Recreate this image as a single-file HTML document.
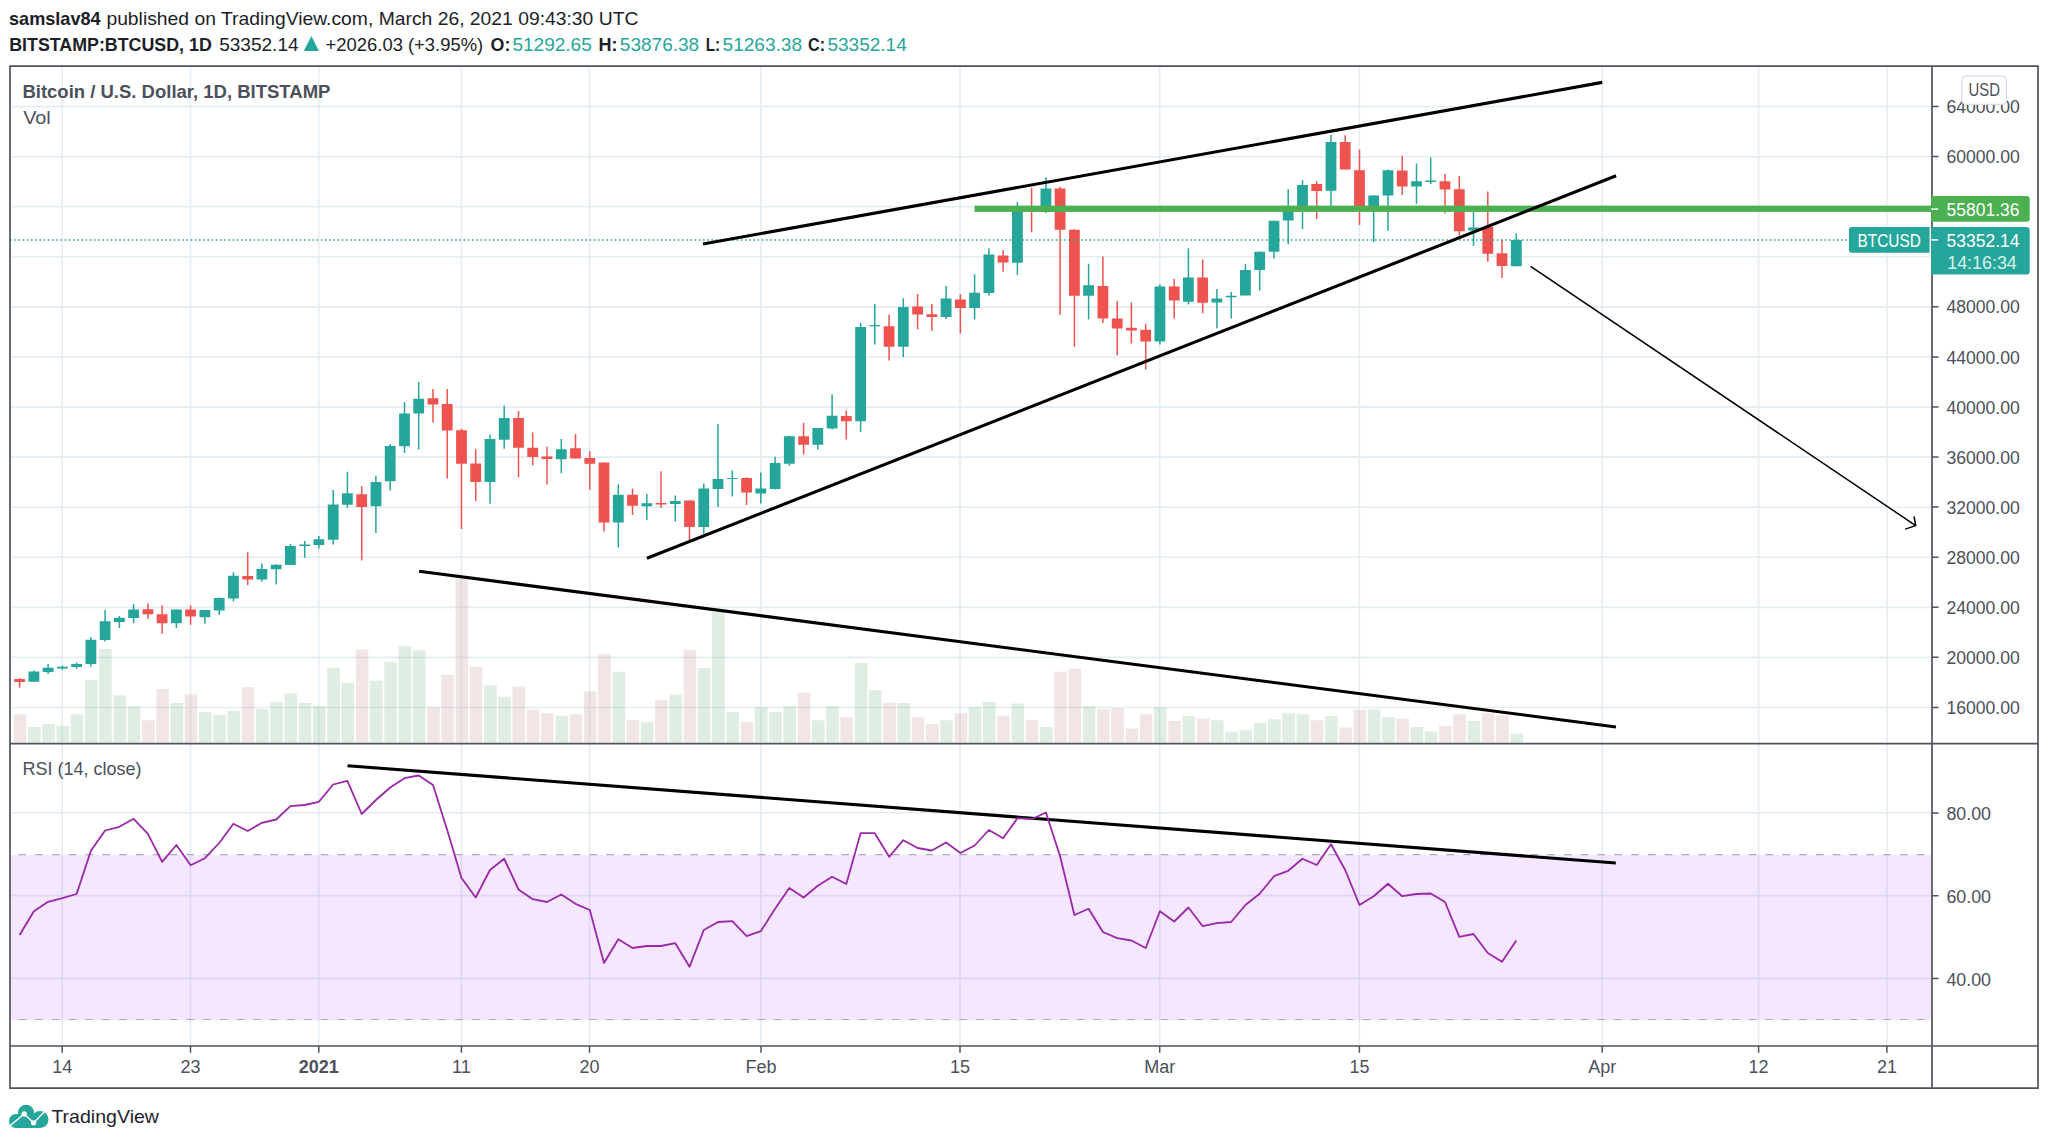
<!DOCTYPE html>
<html lang="en"><head><meta charset="utf-8"><title>BTCUSD chart</title><style>html,body{margin:0;padding:0;background:#fff}body{width:2048px;height:1144px;overflow:hidden}</style></head><body>
<svg width="2048" height="1144" viewBox="0 0 2048 1144" style="display:block" font-family='"Liberation Sans", sans-serif'>
<rect width="2048" height="1144" fill="#fff"/>
<path d="M62.2 67V1046M190.5 67V1046M318.8 67V1046M461.4 67V1046M589.5 67V1046M761.0 67V1046M960.0 67V1046M1159.7 67V1046M1359.4 67V1046M1602.2 67V1046M1758.6 67V1046M1886.9 67V1046M10 106.6H1932M10 156.7H1932M10 206.8H1932M10 256.8H1932M10 306.9H1932M10 357.0H1932M10 407.1H1932M10 457.1H1932M10 507.2H1932M10 557.3H1932M10 607.4H1932M10 657.4H1932M10 707.5H1932M10 812.8H1932M10 895.6H1932M10 978.4H1932" stroke="#E4EDF3" stroke-width="1.6" fill="none"/>
<rect x="10" y="854.9" width="1922" height="165.5" fill="#9915FF" fill-opacity="0.1"/>
<path d="M10 854.6H1932M10 1019.5H1932" stroke="#B2A8BA" stroke-width="1.1" stroke-dasharray="7.6 9.2" stroke-dashoffset="8.4" fill="none"/>
<path d="M28.0 727.0h12.6V742.4h-12.6zM42.2 724.1h12.6V742.4h-12.6zM56.5 726.0h12.6V742.4h-12.6zM70.7 714.3h12.6V742.4h-12.6zM85.0 680.1h12.6V742.4h-12.6zM99.2 648.9h12.6V742.4h-12.6zM113.5 695.2h12.6V742.4h-12.6zM127.7 706.1h12.6V742.4h-12.6zM170.5 703.0h12.6V742.4h-12.6zM199.0 712.0h12.6V742.4h-12.6zM213.3 714.9h12.6V742.4h-12.6zM227.5 711.0h12.6V742.4h-12.6zM256.0 709.0h12.6V742.4h-12.6zM270.3 702.2h12.6V742.4h-12.6zM284.5 693.6h12.6V742.4h-12.6zM298.8 703.0h12.6V742.4h-12.6zM313.0 706.1h12.6V742.4h-12.6zM327.3 667.8h12.6V742.4h-12.6zM341.5 683.0h12.6V742.4h-12.6zM370.0 680.7h12.6V742.4h-12.6zM384.3 662.3h12.6V742.4h-12.6zM398.6 646.3h12.6V742.4h-12.6zM412.8 650.2h12.6V742.4h-12.6zM484.1 685.4h12.6V742.4h-12.6zM498.3 696.7h12.6V742.4h-12.6zM555.4 715.7h12.6V742.4h-12.6zM612.4 671.7h12.6V742.4h-12.6zM640.9 722.1h12.6V742.4h-12.6zM669.4 694.4h12.6V742.4h-12.6zM697.9 668.0h12.6V742.4h-12.6zM712.1 612.3h12.6V742.4h-12.6zM726.4 712.0h12.6V742.4h-12.6zM754.9 706.9h12.6V742.4h-12.6zM769.2 712.0h12.6V742.4h-12.6zM783.4 706.1h12.6V742.4h-12.6zM811.9 720.2h12.6V742.4h-12.6zM826.2 706.1h12.6V742.4h-12.6zM854.7 663.1h12.6V742.4h-12.6zM868.9 689.9h12.6V742.4h-12.6zM897.4 703.0h12.6V742.4h-12.6zM940.2 720.2h12.6V742.4h-12.6zM968.7 706.9h12.6V742.4h-12.6zM983.0 702.0h12.6V742.4h-12.6zM1011.5 703.6h12.6V742.4h-12.6zM1040.0 727.0h12.6V742.4h-12.6zM1082.8 706.1h12.6V742.4h-12.6zM1154.0 706.9h12.6V742.4h-12.6zM1182.5 716.2h12.6V742.4h-12.6zM1211.0 720.2h12.6V742.4h-12.6zM1225.3 732.3h12.6V742.4h-12.6zM1239.5 730.3h12.6V742.4h-12.6zM1253.8 723.1h12.6V742.4h-12.6zM1268.1 719.2h12.6V742.4h-12.6zM1282.3 713.3h12.6V742.4h-12.6zM1296.6 714.3h12.6V742.4h-12.6zM1325.1 716.2h12.6V742.4h-12.6zM1367.8 709.4h12.6V742.4h-12.6zM1382.1 717.2h12.6V742.4h-12.6zM1410.6 727.0h12.6V742.4h-12.6zM1424.8 731.5h12.6V742.4h-12.6zM1467.6 721.1h12.6V742.4h-12.6zM1510.4 733.8h12.6V742.4h-12.6z" fill="#94C3A2" fill-opacity="0.3"/>
<path d="M13.7 714.3h12.6V742.4h-12.6zM142.0 720.2h12.6V742.4h-12.6zM156.2 688.9h12.6V742.4h-12.6zM184.7 694.4h12.6V742.4h-12.6zM241.8 687.0h12.6V742.4h-12.6zM355.8 649.5h12.6V742.4h-12.6zM427.1 706.9h12.6V742.4h-12.6zM441.3 674.8h12.6V742.4h-12.6zM455.6 578.6h12.6V742.4h-12.6zM469.8 666.4h12.6V742.4h-12.6zM512.6 686.4h12.6V742.4h-12.6zM526.8 709.8h12.6V742.4h-12.6zM541.1 713.3h12.6V742.4h-12.6zM569.6 714.3h12.6V742.4h-12.6zM583.9 691.2h12.6V742.4h-12.6zM598.1 654.3h12.6V742.4h-12.6zM626.6 720.2h12.6V742.4h-12.6zM655.1 700.2h12.6V742.4h-12.6zM683.6 649.8h12.6V742.4h-12.6zM740.7 721.7h12.6V742.4h-12.6zM797.7 692.8h12.6V742.4h-12.6zM840.4 717.2h12.6V742.4h-12.6zM883.2 702.6h12.6V742.4h-12.6zM911.7 717.2h12.6V742.4h-12.6zM926.0 724.1h12.6V742.4h-12.6zM954.5 713.3h12.6V742.4h-12.6zM997.2 715.7h12.6V742.4h-12.6zM1025.7 720.2h12.6V742.4h-12.6zM1054.2 671.7h12.6V742.4h-12.6zM1068.5 668.4h12.6V742.4h-12.6zM1097.0 709.0h12.6V742.4h-12.6zM1111.3 707.9h12.6V742.4h-12.6zM1125.5 728.6h12.6V742.4h-12.6zM1139.8 714.3h12.6V742.4h-12.6zM1168.3 721.1h12.6V742.4h-12.6zM1196.8 718.6h12.6V742.4h-12.6zM1310.8 720.2h12.6V742.4h-12.6zM1339.3 727.6h12.6V742.4h-12.6zM1353.6 709.8h12.6V742.4h-12.6zM1396.3 718.6h12.6V742.4h-12.6zM1439.1 726.0h12.6V742.4h-12.6zM1453.4 714.3h12.6V742.4h-12.6zM1481.9 713.3h12.6V742.4h-12.6zM1496.1 715.3h12.6V742.4h-12.6z" fill="#D0A8A8" fill-opacity="0.3"/>
<path d="M33.9 670.5V681.8M48.1 664.0V674.0M62.4 665.6V669.8M76.6 662.5V668.8M90.9 637.3V666.7M105.1 610.0V641.5M119.4 615.9V627.9M133.6 604.2V623.3M176.4 609.4V627.9M204.9 610.0V623.7M219.2 597.4V614.9M233.4 572.3V601.6M261.9 563.4V581.7M276.2 564.3V584.6M290.4 543.9V564.9M304.7 541.0V557.8M318.9 536.0V548.6M333.2 490.0V544.4M347.4 471.8V507.8M375.9 475.8V533.1M390.2 443.9V490.5M404.5 402.0V453.0M418.7 382.0V449.6M490.0 434.5V503.7M504.2 405.5V448.8M561.3 439.1V473.3M618.3 484.2V547.4M646.8 493.9V520.1M675.3 495.6V521.6M703.8 483.4V533.7M718.0 424.0V506.9M732.3 470.5V496.6M760.8 472.4V503.5M775.1 456.7V489.4M789.3 435.7V465.7M817.8 428.1V449.5M832.1 394.4V429.6M860.6 323.0V432.1M874.8 304.1V344.6M903.3 298.3V357.0M946.1 286.0V318.9M974.6 274.2V319.5M988.9 248.2V295.8M1017.4 202.0V274.9M1045.9 177.3V213.0M1088.6 263.7V319.5M1159.9 284.3V344.5M1188.4 248.2V304.6M1216.9 288.9V328.4M1231.2 292.1V318.5M1245.4 263.9V295.6M1259.7 251.4V290.6M1274.0 220.7V258.5M1288.2 189.3V244.3M1302.5 180.3V229.2M1331.0 134.8V205.9M1373.7 195.0V242.2M1388.0 169.4V230.7M1416.5 163.5V203.8M1430.7 157.6V183.9M1473.5 206.5V246.0M1516.3 233.4V266.3" stroke="#26A69A" stroke-width="1.5" fill="none"/>
<path d="M28.5 671.5h10.8v10.3h-10.8zM42.7 667.7h10.8v4.2h-10.8zM57.0 666.7h10.8v1.7h-10.8zM71.2 664.0h10.8v2.9h-10.8zM85.5 639.8h10.8v24.3h-10.8zM99.7 621.2h10.8v18.9h-10.8zM114.0 617.8h10.8v4.2h-10.8zM128.2 609.4h10.8v8.6h-10.8zM171.0 609.4h10.8v13.8h-10.8zM199.5 610.0h10.8v7.3h-10.8zM213.8 598.1h10.8v12.4h-10.8zM228.0 575.8h10.8v22.7h-10.8zM256.5 569.1h10.8v10.3h-10.8zM270.8 564.7h10.8v4.6h-10.8zM285.0 546.0h10.8v18.9h-10.8zM299.3 544.6h10.8v1.5h-10.8zM313.5 539.3h10.8v5.7h-10.8zM327.8 504.5h10.8v35.3h-10.8zM342.0 493.2h10.8v11.5h-10.8zM370.6 482.1h10.8v24.1h-10.8zM384.8 446.0h10.8v35.3h-10.8zM399.1 413.5h10.8v32.7h-10.8zM413.3 398.8h10.8v14.7h-10.8zM484.6 439.1h10.8v42.8h-10.8zM498.8 418.1h10.8v21.6h-10.8zM555.9 449.2h10.8v10.1h-10.8zM612.9 494.7h10.8v27.7h-10.8zM641.4 503.3h10.8v2.9h-10.8zM669.9 501.0h10.8v2.9h-10.8zM698.4 488.6h10.8v38.4h-10.8zM712.6 479.0h10.8v9.9h-10.8zM726.9 477.9h10.8v1.2h-10.8zM755.4 488.4h10.8v5.0h-10.8zM769.7 463.0h10.8v26.0h-10.8zM783.9 436.3h10.8v27.5h-10.8zM812.4 428.1h10.8v16.6h-10.8zM826.7 415.8h10.8v12.8h-10.8zM855.2 327.0h10.8v94.2h-10.8zM869.4 325.1h10.8v1.2h-10.8zM897.9 306.9h10.8v39.9h-10.8zM940.7 298.6h10.8v18.3h-10.8zM969.2 292.7h10.8v15.3h-10.8zM983.5 254.5h10.8v38.6h-10.8zM1012.0 209.8h10.8v52.9h-10.8zM1040.5 188.4h10.8v23.5h-10.8zM1083.2 285.3h10.8v10.5h-10.8zM1154.5 286.4h10.8v55.2h-10.8zM1183.0 277.4h10.8v24.3h-10.8zM1211.5 298.4h10.8v4.2h-10.8zM1225.8 295.8h10.8v1.5h-10.8zM1240.0 270.0h10.8v25.6h-10.8zM1254.3 251.8h10.8v18.3h-10.8zM1268.6 220.7h10.8v31.1h-10.8zM1282.8 209.0h10.8v11.5h-10.8zM1297.1 184.9h10.8v24.1h-10.8zM1325.6 142.1h10.8v48.7h-10.8zM1368.3 195.6h10.8v13.4h-10.8zM1382.6 170.2h10.8v25.4h-10.8zM1411.1 181.3h10.8v5.2h-10.8zM1425.3 180.5h10.8v1.5h-10.8zM1468.1 227.5h10.8v3.1h-10.8zM1510.9 240.1h10.8v26.2h-10.8z" fill="#26A69A"/>
<path d="M19.6 678.2V687.7M147.9 603.3V618.8M162.1 605.4V633.7M190.6 605.4V624.7M247.7 552.3V585.3M361.7 486.3V560.4M433.0 389.0V422.5M447.2 389.0V478.6M461.5 428.8V528.9M475.7 449.2V501.2M518.5 411.0V477.5M532.7 432.4V465.3M547.0 446.7V484.6M575.5 433.9V458.4M589.8 451.3V489.7M604.0 462.2V531.6M632.5 488.4V514.9M661.0 471.2V508.1M689.5 500.2V540.0M746.6 477.2V504.9M803.6 422.7V454.6M846.3 410.5V439.5M889.1 314.6V360.4M917.6 294.1V329.3M931.9 304.1V330.8M960.4 294.2V333.6M1003.1 250.1V271.7M1031.6 187.8V232.3M1060.1 186.7V314.7M1074.4 229.3V346.8M1102.9 256.4V323.1M1117.2 301.1V355.2M1131.4 302.6V343.5M1145.7 323.7V369.5M1174.2 279.0V318.5M1202.7 259.5V313.3M1316.7 181.3V219.1M1345.2 135.2V169.6M1359.5 149.4V225.0M1402.2 155.7V195.0M1445.0 174.0V213.2M1459.3 176.1V235.5M1487.8 191.4V261.7M1502.0 240.1V277.9" stroke="#EF5350" stroke-width="1.5" fill="none"/>
<path d="M14.2 679.1h10.8v2.9h-10.8zM142.5 609.2h10.8v5.0h-10.8zM156.7 614.2h10.8v9.0h-10.8zM185.2 609.4h10.8v7.1h-10.8zM242.3 576.0h10.8v3.4h-10.8zM356.3 494.3h10.8v12.6h-10.8zM427.6 398.2h10.8v6.3h-10.8zM441.8 404.1h10.8v26.4h-10.8zM456.1 430.3h10.8v33.4h-10.8zM470.3 463.4h10.8v18.5h-10.8zM513.1 418.1h10.8v29.6h-10.8zM527.3 447.7h10.8v9.2h-10.8zM541.6 456.5h10.8v2.5h-10.8zM570.1 448.3h10.8v10.1h-10.8zM584.4 458.0h10.8v5.7h-10.8zM598.6 462.4h10.8v60.0h-10.8zM627.1 494.7h10.8v11.1h-10.8zM655.6 502.9h10.8v1.5h-10.8zM684.1 500.6h10.8v26.4h-10.8zM741.2 477.9h10.8v14.7h-10.8zM798.2 436.3h10.8v8.4h-10.8zM840.9 416.0h10.8v5.2h-10.8zM883.7 326.2h10.8v20.6h-10.8zM912.2 306.4h10.8v8.2h-10.8zM926.5 314.2h10.8v2.7h-10.8zM955.0 299.4h10.8v8.6h-10.8zM997.7 255.5h10.8v7.1h-10.8zM1026.2 206.2h10.8v5.0h-10.8zM1054.7 188.4h10.8v41.3h-10.8zM1069.0 229.7h10.8v66.1h-10.8zM1097.5 286.0h10.8v32.5h-10.8zM1111.8 318.5h10.8v10.1h-10.8zM1126.0 327.7h10.8v2.7h-10.8zM1140.3 329.8h10.8v11.8h-10.8zM1168.8 286.6h10.8v13.8h-10.8zM1197.3 277.4h10.8v25.4h-10.8zM1311.3 184.1h10.8v6.9h-10.8zM1339.8 142.1h10.8v27.5h-10.8zM1354.1 170.2h10.8v38.8h-10.8zM1396.8 170.4h10.8v16.2h-10.8zM1439.6 181.3h10.8v8.2h-10.8zM1453.9 189.3h10.8v42.0h-10.8zM1482.4 227.1h10.8v26.6h-10.8zM1496.6 253.3h10.8v12.6h-10.8z" fill="#EF5350"/>
<path d="M10 239.9H1849" stroke="#26A69A" stroke-width="1.5" stroke-dasharray="1.6 2.6" fill="none"/>
<rect x="974.5" y="205.6" width="957.5" height="6.3" fill="#4CAF50"/>
<g stroke="#000" stroke-width="3.1" fill="none" stroke-linecap="butt">
<path d="M703 244L1602.2 82.4"/>
<path d="M646.9 558.3L1616.1 175.8"/>
<path d="M419.1 571.3L1616 727"/>
<path d="M347.5 765.7L1615.8 863"/>
</g>
<path d="M1530.6 266.3L1915.7 525.6M1914 516.4L1915.7 525.6L1905.2 529.1" stroke="#000" stroke-width="1.5" fill="none"/>
<polyline points="19.6,935.0 33.9,911.2 48.1,901.8 62.4,898.2 76.6,894.0 90.9,850.8 105.1,830.5 119.4,826.8 133.6,818.8 147.9,833.8 162.1,861.8 176.4,845.0 190.6,865.2 204.9,858.2 219.2,843.0 233.4,823.8 247.7,831.0 261.9,822.8 276.2,819.5 290.4,806.2 304.7,805.0 318.9,801.8 333.2,784.5 347.4,780.8 361.7,814.0 375.9,800.0 390.2,787.5 404.5,778.2 418.7,775.5 433.0,785.0 447.2,830.0 461.5,878.0 475.7,897.5 490.0,870.0 504.2,858.8 518.5,889.5 532.7,899.2 547.0,902.0 561.3,894.5 575.5,903.8 589.8,910.0 604.0,963.0 618.3,939.2 632.5,948.0 646.8,946.0 661.0,946.0 675.3,943.2 689.5,966.8 703.8,930.0 718.0,922.0 732.3,921.2 746.6,936.2 760.8,931.2 775.1,908.8 789.3,888.0 803.6,897.5 817.8,885.8 832.1,876.8 846.3,884.0 860.6,833.2 874.8,833.2 889.1,856.8 903.3,840.2 917.6,848.0 931.9,850.5 946.1,842.5 960.4,853.0 974.6,845.5 988.9,830.0 1003.1,838.2 1017.4,818.2 1031.6,819.2 1045.9,812.5 1060.1,856.2 1074.4,915.0 1088.6,908.8 1102.9,932.0 1117.2,938.2 1131.4,940.5 1145.7,948.0 1159.9,911.2 1174.2,921.5 1188.4,907.5 1202.7,926.2 1216.9,923.2 1231.2,922.0 1245.4,905.0 1259.7,893.8 1274.0,876.2 1288.2,870.8 1302.5,858.8 1316.7,865.0 1331.0,844.2 1345.2,870.0 1359.5,905.0 1373.7,896.2 1388.0,883.8 1402.2,896.2 1416.5,894.0 1430.7,893.5 1445.0,902.0 1459.3,936.8 1473.5,934.0 1487.8,953.0 1502.0,961.8 1516.3,940.5" stroke="#9A28A8" stroke-width="1.8" fill="none" stroke-linejoin="round"/>
<path d="M10 66.1H2038V1088.2H10zM1932 66V1088M10 743.6H2038M10 1046H2038" stroke="#50535E" stroke-width="1.7" fill="none"/>
<path d="M1932 106.5h6.5M1932 156.6h6.5M1932 206.7h6.5M1932 256.7h6.5M1932 306.8h6.5M1932 356.9h6.5M1932 407.0h6.5M1932 457.0h6.5M1932 507.1h6.5M1932 557.2h6.5M1932 607.2h6.5M1932 657.3h6.5M1932 707.4h6.5M1932 812.9h6.5M1932 895.7h6.5M1932 978.5h6.5M62.2 1046v6.8M190.5 1046v6.8M318.8 1046v6.8M461.4 1046v6.8M589.5 1046v6.8M761.0 1046v6.8M960.0 1046v6.8M1159.7 1046v6.8M1359.4 1046v6.8M1602.2 1046v6.8M1758.6 1046v6.8M1886.9 1046v6.8" stroke="#50535E" stroke-width="1.5" fill="none"/>
<text x="1946.4" y="113.1" font-size="18" fill="#4C505B" textLength="73.4" lengthAdjust="spacingAndGlyphs">64000.00</text>
<text x="1946.4" y="163.2" font-size="18" fill="#4C505B" textLength="73.4" lengthAdjust="spacingAndGlyphs">60000.00</text>
<text x="1946.4" y="213.2" font-size="18" fill="#4C505B" textLength="73.4" lengthAdjust="spacingAndGlyphs">56000.00</text>
<text x="1946.4" y="263.3" font-size="18" fill="#4C505B" textLength="73.4" lengthAdjust="spacingAndGlyphs">52000.00</text>
<text x="1946.4" y="313.4" font-size="18" fill="#4C505B" textLength="73.4" lengthAdjust="spacingAndGlyphs">48000.00</text>
<text x="1946.4" y="363.5" font-size="18" fill="#4C505B" textLength="73.4" lengthAdjust="spacingAndGlyphs">44000.00</text>
<text x="1946.4" y="413.6" font-size="18" fill="#4C505B" textLength="73.4" lengthAdjust="spacingAndGlyphs">40000.00</text>
<text x="1946.4" y="463.6" font-size="18" fill="#4C505B" textLength="73.4" lengthAdjust="spacingAndGlyphs">36000.00</text>
<text x="1946.4" y="513.7" font-size="18" fill="#4C505B" textLength="73.4" lengthAdjust="spacingAndGlyphs">32000.00</text>
<text x="1946.4" y="563.8" font-size="18" fill="#4C505B" textLength="73.4" lengthAdjust="spacingAndGlyphs">28000.00</text>
<text x="1946.4" y="613.9" font-size="18" fill="#4C505B" textLength="73.4" lengthAdjust="spacingAndGlyphs">24000.00</text>
<text x="1946.4" y="663.9" font-size="18" fill="#4C505B" textLength="73.4" lengthAdjust="spacingAndGlyphs">20000.00</text>
<text x="1946.4" y="714.0" font-size="18" fill="#4C505B" textLength="73.4" lengthAdjust="spacingAndGlyphs">16000.00</text>
<text x="1946.4" y="819.9" font-size="18" fill="#4C505B" textLength="44.6" lengthAdjust="spacingAndGlyphs">80.00</text>
<text x="1946.4" y="902.7" font-size="18" fill="#4C505B" textLength="44.6" lengthAdjust="spacingAndGlyphs">60.00</text>
<text x="1946.4" y="985.5" font-size="18" fill="#4C505B" textLength="44.6" lengthAdjust="spacingAndGlyphs">40.00</text>
<rect x="1961.8" y="76.1" width="44.6" height="28.2" rx="4.5" fill="#fff" stroke="#DDD9EC" stroke-width="1.2"/>
<text x="1968.6" y="95.9" font-size="18" fill="#4C505B" textLength="31.4" lengthAdjust="spacingAndGlyphs">USD</text>
<path d="M1931.2 195.9H2026.7a3 3 0 0 1 3 3V218.8a3 3 0 0 1 -3 3H1931.2z" fill="#4CAF50"/>
<path d="M1931.2 209.1h7" stroke="#fff" stroke-width="1.5"/>
<text x="1946.6" y="215.5" font-size="18" fill="#fff" textLength="72.8" lengthAdjust="spacingAndGlyphs">55801.36</text>
<path d="M1931.2 226.9H2026.7a3 3 0 0 1 3 3V271.4a3 3 0 0 1 -3 3H1931.2z" fill="#26A69A"/>
<path d="M1851.9 226.9H1929.6V252.8H1851.9a3 3 0 0 1 -3 -3V229.9a3 3 0 0 1 3 -3z" fill="#26A69A"/>
<path d="M1931.2 239.9h7" stroke="#fff" stroke-width="1.5"/>
<text x="1857.6" y="247.0" font-size="18" fill="#fff" textLength="63.2" lengthAdjust="spacingAndGlyphs">BTCUSD</text>
<text x="1946.6" y="247.0" font-size="18" fill="#fff" textLength="72.8" lengthAdjust="spacingAndGlyphs">53352.14</text>
<text x="1947.2" y="268.5" font-size="18" fill="#D9F1EE" textLength="69.6" lengthAdjust="spacingAndGlyphs">14:16:34</text>
<text x="62.2" y="1073.2" font-size="18" fill="#4C505B" text-anchor="middle">14</text>
<text x="190.5" y="1073.2" font-size="18" fill="#4C505B" text-anchor="middle">23</text>
<text x="318.8" y="1073.2" font-size="18" fill="#4C505B" font-weight="bold" text-anchor="middle">2021</text>
<text x="461.4" y="1073.2" font-size="18" fill="#4C505B" text-anchor="middle">11</text>
<text x="589.5" y="1073.2" font-size="18" fill="#4C505B" text-anchor="middle">20</text>
<text x="761.0" y="1073.2" font-size="18" fill="#4C505B" text-anchor="middle">Feb</text>
<text x="960.0" y="1073.2" font-size="18" fill="#4C505B" text-anchor="middle">15</text>
<text x="1159.7" y="1073.2" font-size="18" fill="#4C505B" text-anchor="middle">Mar</text>
<text x="1359.4" y="1073.2" font-size="18" fill="#4C505B" text-anchor="middle">15</text>
<text x="1602.2" y="1073.2" font-size="18" fill="#4C505B" text-anchor="middle">Apr</text>
<text x="1758.6" y="1073.2" font-size="18" fill="#4C505B" text-anchor="middle">12</text>
<text x="1886.9" y="1073.2" font-size="18" fill="#4C505B" text-anchor="middle">21</text>
<text x="22.4" y="97.7" font-size="18.6" fill="#4C505B" font-weight="bold" textLength="308.0" lengthAdjust="spacingAndGlyphs">Bitcoin / U.S. Dollar, 1D, BITSTAMP</text>
<text x="23.2" y="123.6" font-size="18.6" fill="#4C505B" textLength="27.6" lengthAdjust="spacingAndGlyphs">Vol</text>
<text x="22.6" y="775.4" font-size="18.6" fill="#4C505B" textLength="119.0" lengthAdjust="spacingAndGlyphs">RSI (14, close)</text>
<text x="9.0" y="24.8" font-size="18.6" fill="#1B1E27" font-weight="bold" textLength="91.6" lengthAdjust="spacingAndGlyphs">samslav84</text>
<text x="106.4" y="24.8" font-size="18.6" fill="#1B1E27" textLength="532.0" lengthAdjust="spacingAndGlyphs">published on TradingView.com, March 26, 2021 09:43:30 UTC</text>
<text x="9.2" y="50.9" font-size="18.6" fill="#1B1E27" font-weight="bold" textLength="202.6" lengthAdjust="spacingAndGlyphs">BITSTAMP:BTCUSD, 1D</text>
<text x="219.2" y="50.9" font-size="18.6" fill="#1B1E27" textLength="79.4" lengthAdjust="spacingAndGlyphs">53352.14</text>
<path d="M303.75 50.9L311.4 35.9L319 50.9z" fill="#26A69A"/>
<text x="325.6" y="50.9" font-size="18.6" fill="#1B1E27" textLength="157.6" lengthAdjust="spacingAndGlyphs">+2026.03 (+3.95%)</text>
<text x="490.6" y="50.9" font-size="18.6" fill="#1B1E27" font-weight="bold" textLength="19.8" lengthAdjust="spacingAndGlyphs">O:</text>
<text x="512.4" y="50.9" font-size="18.6" fill="#26A69A" textLength="79.4" lengthAdjust="spacingAndGlyphs">51292.65</text>
<text x="598.6" y="50.9" font-size="18.6" fill="#1B1E27" font-weight="bold" textLength="19.0" lengthAdjust="spacingAndGlyphs">H:</text>
<text x="619.8" y="50.9" font-size="18.6" fill="#26A69A" textLength="79.4" lengthAdjust="spacingAndGlyphs">53876.38</text>
<text x="705.8" y="50.9" font-size="18.6" fill="#1B1E27" font-weight="bold" textLength="14.4" lengthAdjust="spacingAndGlyphs">L:</text>
<text x="722.6" y="50.9" font-size="18.6" fill="#26A69A" textLength="79.4" lengthAdjust="spacingAndGlyphs">51263.38</text>
<text x="808.0" y="50.9" font-size="18.6" fill="#1B1E27" font-weight="bold" textLength="17.0" lengthAdjust="spacingAndGlyphs">C:</text>
<text x="827.4" y="50.9" font-size="18.6" fill="#26A69A" textLength="79.4" lengthAdjust="spacingAndGlyphs">53352.14</text>
<g fill="#26A69A"><circle cx="16" cy="1121" r="7"/><circle cx="26.03" cy="1112.8" r="8.03"/><circle cx="40" cy="1119.6" r="8.5"/><rect x="16" y="1114" width="24" height="14.05"/></g>
<path d="M9.4 1126.3L24.15 1114.05L33.6 1122.87L44.6 1111.5" stroke="#fff" stroke-width="1.4" fill="none"/>
<circle cx="24.15" cy="1114.05" r="2.7" fill="#fff"/><circle cx="33.6" cy="1122.87" r="2.7" fill="#fff"/>
<text x="51.4" y="1122.6" font-size="18.6" fill="#1E222D" textLength="107.6" lengthAdjust="spacingAndGlyphs">TradingView</text>
</svg>
</body></html>
